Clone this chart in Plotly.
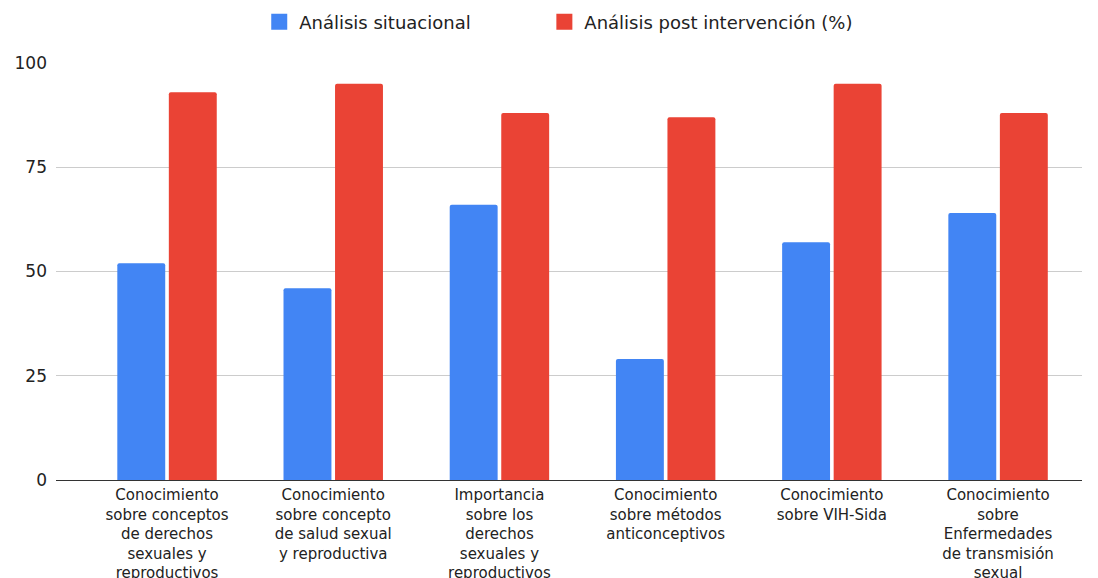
import plotly.graph_objects as go

categories = [
    "Conocimiento<br>sobre conceptos<br>de derechos<br>sexuales y<br>reproductivos",
    "Conocimiento<br>sobre concepto<br>de salud sexual<br>y reproductiva",
    "Importancia<br>sobre los<br>derechos<br>sexuales y<br>reproductivos",
    "Conocimiento<br>sobre métodos<br>anticonceptivos",
    "Conocimiento<br>sobre VIH-Sida",
    "Conocimiento<br>sobre<br>Enfermedades<br>de transmisión<br>sexual",
]
situacional = [52, 46, 66, 29, 57, 64]
post_intervencion = [93, 95, 88, 87, 95, 88]
y_ticks = [0, 25, 50, 75, 100]
series_names = ["Análisis situacional", "Análisis post intervención (%)"]
series_colors = ["#4285F4", "#EA4335"]

FONT = "DejaVu Sans"
NBSP = "\u00a0"

fig = go.Figure()
for name, vals, col in zip(series_names, [situacional, post_intervencion], series_colors):
    fig.add_trace(go.Bar(x=categories, y=vals, name=name, showlegend=False,
                         marker=dict(color=col, line=dict(width=0))))
# legend-only entries with larger square keys (first padded to widen spacing)
legend_labels = [series_names[0] + NBSP * 12, series_names[1]]
for name, col in zip(legend_labels, series_colors):
    fig.add_trace(go.Scatter(x=[None], y=[None], mode="markers", name=name,
                             marker=dict(symbol="square", size=16, color=col)))

fig.update_layout(
    width=1098, height=578,
    margin=dict(l=56, r=16, t=63, b=98),
    paper_bgcolor="white", plot_bgcolor="white",
    barmode="group", bargap=0.38, bargroupgap=0.07, barcornerradius=2,
    font=dict(family=FONT, size=16, color="#222222"),
    legend=dict(orientation="h", x=0.49, xanchor="center", y=1 - 22 / 578, yanchor="middle",
                yref="container", font=dict(family=FONT, size=18, color="#222222"),
                itemwidth=30, itemsizing="trace"),
    showlegend=True,
)
fig.update_xaxes(
    range=[-0.668, 5.505], showgrid=False, showline=True, linecolor="#333333", linewidth=1,
    ticks="", tickfont=dict(family=FONT, size=15, color="#222222"), tickangle=0,
    automargin=False, ticklabelstandoff=1, fixedrange=True,
)
fig.update_yaxes(
    range=[0, 100], tickvals=y_ticks, showgrid=True, gridcolor="#cccccc", gridwidth=1,
    zeroline=False, ticks="", ticklabelstandoff=8, automargin=False,
    tickfont=dict(family=FONT, size=17, color="#222222"),
)

fig.write_html("out.html")
